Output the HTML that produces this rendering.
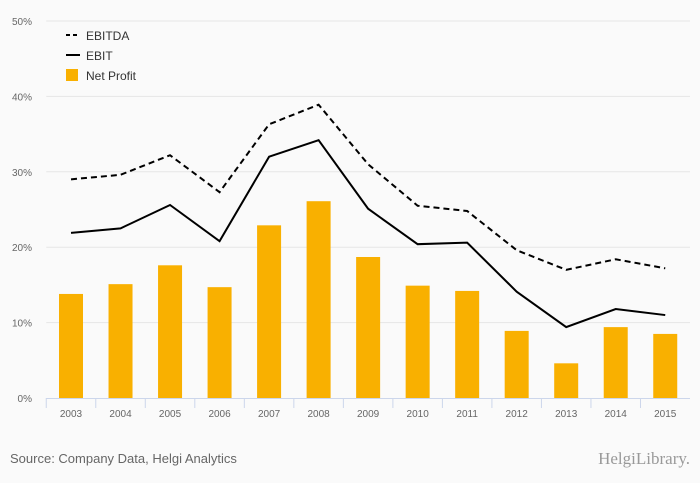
<!DOCTYPE html>
<html><head><meta charset="utf-8"><style>
body{margin:0;background:#fafafa;font-family:"Liberation Sans",sans-serif}
svg{display:block}
</style></head><body>
<svg id="c" width="700" height="483">
<rect width="700" height="483" fill="#fafafa"/>
<text x="10" y="463" font-size="13" fill="#666">Source: Company Data, Helgi Analytics</text>
<text x="690" y="464" font-size="17" fill="#999" text-anchor="end" font-family="Liberation Serif,serif">HelgiLibrary.</text>
<g>
<g><line x1="66" y1="35" x2="80" y2="35" stroke="#000" stroke-width="2" stroke-dasharray="4,3"/><text x="86" y="40" font-size="12" fill="#333">EBITDA</text></g>
<g><line x1="66" y1="55" x2="80" y2="55" stroke="#000" stroke-width="2"/><text x="86" y="60" font-size="12" fill="#333">EBIT</text></g>
<g><rect x="66" y="69" width="12" height="12" fill="#f9b000"/><text x="86" y="80" font-size="12" fill="#333">Net Profit</text></g>
</g>
</svg>
<script>
const years=["2003","2004","2005","2006","2007","2008","2009","2010","2011","2012","2013","2014","2015"];
const netProfit=[13.8,15.1,17.6,14.7,22.9,26.1,18.7,14.9,14.2,8.9,4.6,9.4,8.5];
const ebitda=[29.0,29.6,32.2,27.3,36.3,38.9,31.0,25.5,24.8,19.6,17.0,18.4,17.2];
const ebit=[21.9,22.5,25.6,20.8,32.0,34.2,25.1,20.4,20.6,14.1,9.4,11.8,11.0];
const yTicks=[0,10,20,30,40,50];
const NS="http://www.w3.org/2000/svg",svg=document.getElementById('c');
const L=46.25,R=690,T=21,B=398,bw=(R-L)/years.length;
const x=i=>L+bw*(i+0.5), y=v=>B-(B-T)*v/50;
function mk(t,a,p){const e=document.createElementNS(NS,t);for(const k in a)e.setAttribute(k,a[k]);(p||svg).appendChild(e);return e;}
const gg=mk('g',{});


yTicks.forEach(v=>{
 if(v>0){const l=mk('line',{x1:L,x2:R,y1:y(v),y2:y(v),stroke:'#e6e6e6'},gg);
 
 }
 const t=mk('text',{x:32,y:y(v)+4,'font-size':10,fill:'#666','text-anchor':'end'});
 t.textContent=v+'%';
 
 
});
netProfit.forEach((v,i)=>{
 const r=mk('rect',{x:x(i)-12,y:y(v),width:24,height:B-y(v),fill:'#f9b000'});
 
 
});
const ax=mk('line',{x1:L,x2:R,y1:B+0.5,y2:B+0.5,stroke:'#ccd6eb'});


years.forEach((yr,i)=>{
 const tk=mk('line',{x1:L+bw*i,x2:L+bw*i,y1:B,y2:B+10,stroke:'#ccd6eb'});
 
 
 const t=mk('text',{x:x(i),y:B+19,'font-size':10,fill:'#666','text-anchor':'middle'});
 t.textContent=yr;
 
 
});
const pe=mk('path',{d:ebitda.map((v,i)=>(i?'L':'M')+x(i)+','+y(v)).join(''),fill:'none',stroke:'#000','stroke-width':2,'stroke-dasharray':'6,4'});


const pb=mk('path',{d:ebit.map((v,i)=>(i?'L':'M')+x(i)+','+y(v)).join(''),fill:'none',stroke:'#000','stroke-width':2});


</script>
</body></html>
